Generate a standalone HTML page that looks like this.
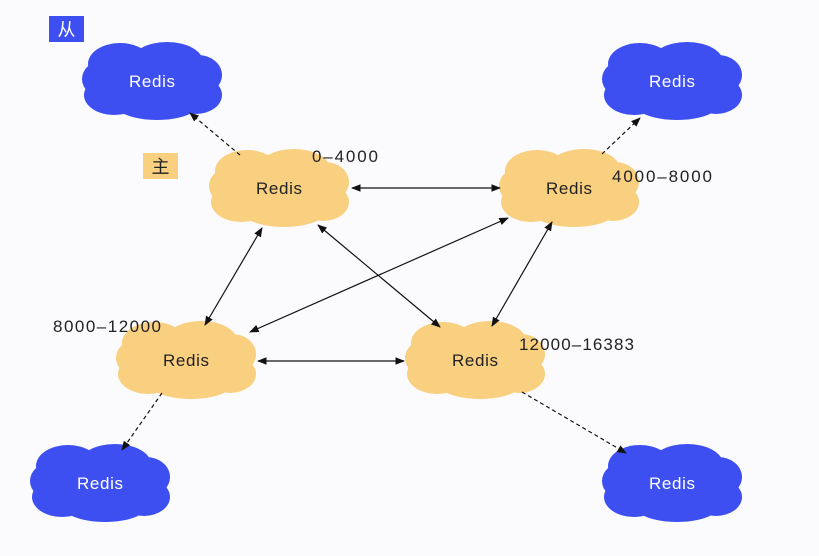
<!DOCTYPE html>
<html><head><meta charset="utf-8"><style>
html,body{margin:0;padding:0;background:#fbfbfd;}
svg{display:block;}
text{font-family:"Liberation Sans","Noto Sans CJK SC",sans-serif;}
</style></head><body>
<svg width="819" height="556" viewBox="0 0 819 556">
<defs>
<g id="cloud">
<ellipse cx="0" cy="0" rx="58" ry="28"/>
<ellipse cx="-32" cy="-17" rx="32" ry="21"/>
<ellipse cx="15" cy="-19" rx="36" ry="20"/>
<ellipse cx="46" cy="-6" rx="24" ry="20"/>
<ellipse cx="44" cy="14" rx="26" ry="19"/>
<ellipse cx="5" cy="21" rx="44" ry="18"/>
<ellipse cx="-38" cy="14" rx="30" ry="20"/>
<ellipse cx="-50" cy="-2" rx="20" ry="18"/>
</g>
<marker id="a" viewBox="0 0 10 10" refX="9" refY="5" markerWidth="8" markerHeight="8" orient="auto-start-reverse"><path d="M0,1 L10,5 L0,9 z" fill="#111"/></marker>
</defs>
<rect x="49" y="16" width="35" height="26" fill="#3d4ff0"/>
<text x="66.5" y="36" font-size="18" fill="#fff" text-anchor="middle">从</text>
<rect x="143" y="153" width="35" height="26" fill="#f9cf80"/>
<text x="160.5" y="173" font-size="18" fill="#222" text-anchor="middle">主</text>
<g fill="#3d4ff0">
<use href="#cloud" x="152" y="81"/>
<use href="#cloud" x="672" y="81"/>
<use href="#cloud" x="100" y="483"/>
<use href="#cloud" x="672" y="483"/>
</g>
<g fill="#f9cf80">
<use href="#cloud" x="279" y="188"/>
<use href="#cloud" x="569" y="188"/>
<use href="#cloud" x="186" y="360"/>
<use href="#cloud" x="475" y="360"/>
</g>
<g stroke="#111" stroke-width="1.2" fill="none" marker-start="url(#a)" marker-end="url(#a)">
<line x1="352" y1="188" x2="500" y2="188"/>
<line x1="262" y1="228" x2="205" y2="325"/>
<line x1="318" y1="225" x2="440" y2="327"/>
<line x1="508" y1="218" x2="250" y2="332"/>
<line x1="552" y1="222" x2="492" y2="326"/>
<line x1="258" y1="361" x2="404" y2="361"/>
</g>
<g stroke="#111" stroke-width="1.2" stroke-dasharray="4,3" fill="none" marker-end="url(#a)">
<line x1="240" y1="155" x2="190" y2="113"/>
<line x1="602" y1="154" x2="640" y2="118"/>
<line x1="162" y1="393" x2="122" y2="450"/>
<line x1="522" y1="392" x2="626" y2="453"/>
</g>
<g font-size="17" text-anchor="middle">
<text x="152" y="87" fill="#fff" textLength="46">Redis</text>
<text x="672" y="87" fill="#fff" textLength="46">Redis</text>
<text x="100" y="489" fill="#fff" textLength="46">Redis</text>
<text x="672" y="489" fill="#fff" textLength="46">Redis</text>
<text x="279" y="194" fill="#222" textLength="46">Redis</text>
<text x="569" y="194" fill="#222" textLength="46">Redis</text>
<text x="186" y="366" fill="#222" textLength="46">Redis</text>
<text x="475" y="366" fill="#222" textLength="46">Redis</text>
</g>
<g font-size="17" fill="#222">
<text x="312" y="162" textLength="66">0–4000</text>
<text x="612" y="182" textLength="100">4000–8000</text>
<text x="53" y="332" textLength="108">8000–12000</text>
<text x="519" y="350" textLength="115">12000–16383</text>
</g>
</svg>
</body></html>
